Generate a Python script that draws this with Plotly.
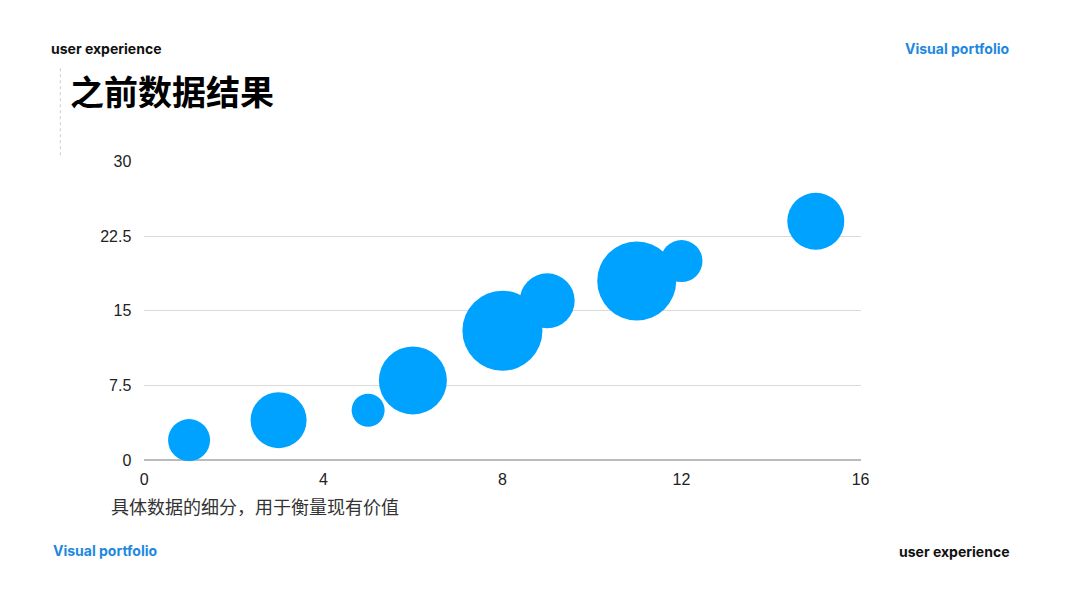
import plotly.graph_objects as go

# bubble data
x_vals = [1, 3, 5, 6, 8, 9, 11, 12, 15]
y_vals = [2, 4, 5, 8, 13, 16, 18, 20, 24]
bubble_size = [42, 56, 33, 68, 80, 55, 79, 42, 57]

x_ticks = [0, 4, 8, 12, 16]
y_ticks = [0, 7.5, 15, 22.5, 30]
y_tick_text = ['0', '7.5', '15', '22.5', '30']

title_text = '之前数据结果'
caption_text = '具体数据的细分，用于衡量现有价值'

W, H = 1080, 608
BLUE = '#00A2FF'
LABEL_BLUE = '#1E88E0'


def px(v):
    return v / W


def py(v):
    return 1 - v / H


fig = go.Figure()
fig.add_trace(go.Scatter(
    x=x_vals, y=y_vals, mode='markers',
    marker=dict(size=bubble_size, sizemode='diameter', color=BLUE, opacity=1,
                line=dict(width=0)),
    cliponaxis=False, hoverinfo='x+y'
))

fig.update_xaxes(domain=[px(142), px(867)], range=[0, 16], tickvals=x_ticks,
                 showgrid=False, zeroline=False, showline=False,
                 ticks='', ticklabelstandoff=8,
                 tickfont=dict(family='Liberation Sans, Arial', size=16, color='#222'))
fig.update_yaxes(domain=[py(465), py(158)], range=[0, 30],
                 tickvals=y_ticks, ticktext=y_tick_text,
                 showgrid=True, gridcolor='#DADADA', gridwidth=1,
                 zeroline=True, zerolinecolor='#BBBBBB', zerolinewidth=1.5,
                 showline=False, ticks='', ticklabelstandoff=12,
                 tickfont=dict(family='Liberation Sans, Arial', size=16, color='#222'))

ann = [
    dict(text='<b>user experience</b>', x=px(46), y=py(42), xanchor='left', yanchor='middle',
         font=dict(family='Inter, Liberation Sans', size=14, color='#111')),
    dict(text='<b>Visual portfolio</b>', x=px(1020), y=py(42), xanchor='right', yanchor='middle',
         font=dict(family='Inter, Liberation Sans', size=14, color=LABEL_BLUE)),
    dict(text='<b>Visual portfolio</b>', x=px(48), y=py(558), xanchor='left', yanchor='middle',
         font=dict(family='Inter, Liberation Sans', size=14, color=LABEL_BLUE)),
    dict(text='<b>user experience</b>', x=px(1020), y=py(559), xanchor='right', yanchor='middle',
         font=dict(family='Inter, Liberation Sans', size=14, color='#111')),
    dict(text='<b>' + title_text + '</b>', x=px(65), y=py(85), xanchor='left', yanchor='middle',
         font=dict(family='Noto Sans CJK SC', size=34, color='#000')),
    dict(text=caption_text, x=px(106), y=py(512), xanchor='left', yanchor='middle',
         font=dict(family='Noto Sans CJK SC', size=18, color='#333')),
]
for a in ann:
    a.update(xref='paper', yref='paper', showarrow=False)

fig.update_layout(
    width=W, height=H,
    margin=dict(l=0, r=0, t=0, b=0),
    paper_bgcolor='white', plot_bgcolor='white',
    showlegend=False,
    annotations=ann,
    shapes=[dict(type='line', xref='paper', yref='paper',
                 x0=px(57), x1=px(57), y0=py(62), y1=py(152),
                 line=dict(color='#CCCCCC', width=1, dash='dot'))],
)

# drop the default page margin so the figure sits at the window's corner
fig.write_html('out.html',
               config={'displayModeBar': False},
               post_script="document.body.style.margin='0';"
                           "document.body.style.overflow='hidden';")
